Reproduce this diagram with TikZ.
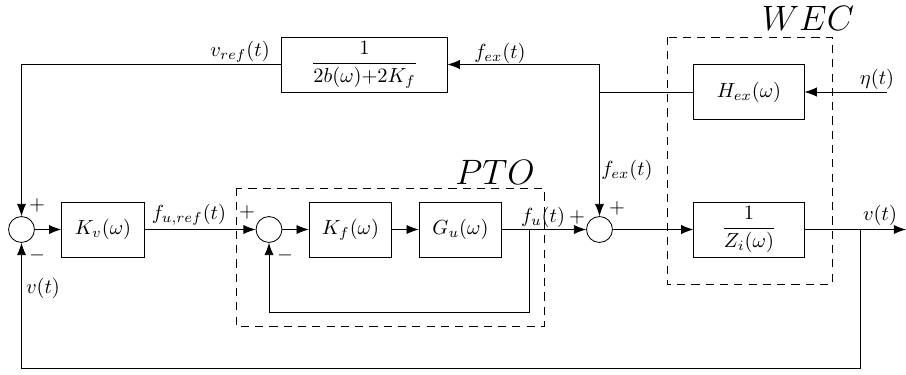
\documentclass[tikz,border=0pt]{standalone}
\usepackage{amsmath}
\usepackage{tikz}
\usetikzlibrary{arrows.meta,calc}

\begin{document}
\begin{tikzpicture}[x=0.49pt,y=-0.49pt,
  blk/.style={draw,minimum height=27pt,minimum width=40.5pt,inner sep=1pt},
  sumnode/.style={draw,circle,minimum size=12.7pt,inner sep=0pt},
  arr/.style={-{Latex[length=6pt,width=4.5pt]}},
  grp/.style={draw,dash pattern=on 4pt off 3pt}]
\useasboundingbox (0,0) rectangle (906,374);
\node[sumnode] (sumA) at (21.5,229.5) {};
\node[blk] (kv) at (103,229.5) {$K_v(\omega)$};
\node[sumnode] (sumB) at (269,229.5) {};
\node[blk] (kf) at (350.5,229.5) {$K_f(\omega)$};
\node[blk] (gu) at (460.5,229.5) {$G_u(\omega)$};
\node[sumnode] (sumC) at (599.5,229.5) {};
\node[blk,minimum width=54pt] (zi) at (749,229.5) {$\dfrac{1}{Z_i(\omega)}$};
\node[blk,minimum width=54pt] (hex) at (749,92) {$H_{ex}(\omega)$};
\node[blk,minimum width=81pt] (fb) at (364.5,64.5) {$\dfrac{1}{2b(\omega){+}2K_f}$};
\coordinate (eta) at (887,92);
\coordinate (out) at (906,229.5);
\coordinate (tap) at (860,229.5);
\coordinate (split) at (sumC |- fb.east);
\draw[grp] (236,188) rectangle (544,326);
\draw[grp] (667,37) rectangle (832,284);
\node (pto) at (495,172) {\LARGE $PTO$};
\node (wec) at (808,18) {\LARGE $WEC$};
\draw[arr] (eta) -- (hex.east);
\draw (hex.west) -- (hex.west -| split);
\draw[arr] (split) -- (fb.east);
\draw[arr] (split) -- (sumC.north);
\draw[arr] (fb.west) -| (sumA.north);
\draw[arr] (sumA.east) -- (kv.west);
\draw[arr] (kv.east) -- (sumB.west);
\draw[arr] (sumB.east) -- (kf.west);
\draw[arr] (kf.east) -- (gu.west);
\draw[arr] (gu.east) -- (sumC.west);
\draw[arr] (529,229.5) |- (269,312) -- (sumB.south);
\draw[arr] (sumC.east) -- (zi.west);
\draw[arr] (zi.east) -- (out);
\draw[arr] (tap) |- (21.5,368) -- (sumA.south);
\node (vref) at (240,52) {$v_{ref}(t)$};
\node (fex1) at (500,53) {$f_{ex}(t)$};
\node (etal) at (877,79) {$\eta(t)$};
\node (furef) at (189,215) {$f_{u,ref}(t)$};
\node (fu) at (543,217) {$f_u(t)$};
\node (fex2) at (627,170) {$f_{ex}(t)$};
\node (vout) at (880,215) {$v(t)$};
\node (vfb) at (43,288) {$v(t)$};
\node (pA) at (37,205) {$+$};
\node (mA) at (37,255) {$-$};
\node (pB) at (247,212) {$+$};
\node (mB) at (285,255) {$-$};
\node (pC) at (577,217) {$+$};
\node (pD) at (617,208) {$+$};
\end{tikzpicture}
\end{document}
